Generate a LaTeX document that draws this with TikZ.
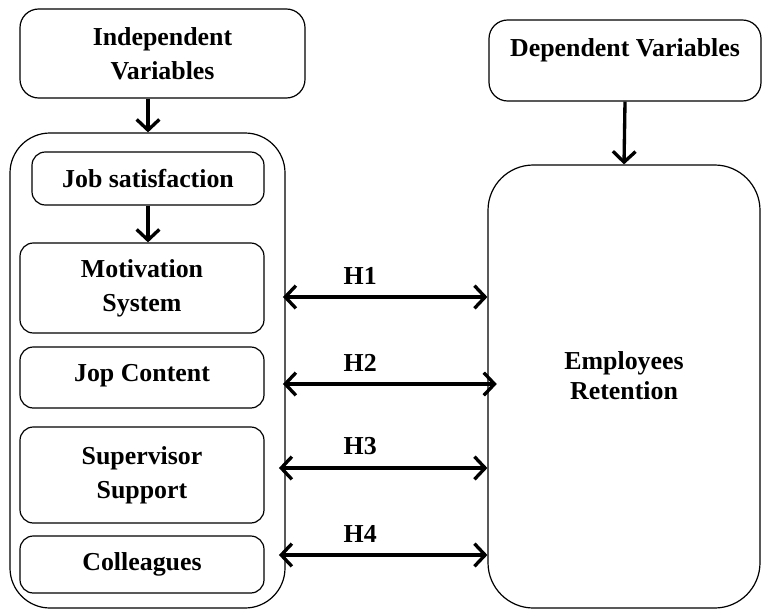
\documentclass[tikz,border=0pt]{standalone}
\usepackage{fontspec}
\setmainfont{Liberation Serif}
\usetikzlibrary{arrows.meta, positioning, calc}

\begin{document}
\begin{tikzpicture}[
    x=0.75pt, y=-0.75pt,
    varbox/.style={draw, line width=0.9pt, rounded corners=10pt, align=center, inner sep=2pt, font=\bfseries\fontsize{19.4}{25.5}\selectfont},
    group/.style={draw, line width=0.9pt, rounded corners=30pt},
    link/.style={-{Straight Barb[length=8pt, width=17pt]}, line width=2.5pt},
    biarrow/.style={{Straight Barb[length=8pt, width=17pt]}-{Straight Barb[length=8pt, width=17pt]}, line width=2.5pt},
    hlabel/.style={pos=0.37, above=5pt, font=\bfseries\fontsize{19.4}{22}\selectfont}
]
    \useasboundingbox (0,0) rectangle (762,610);

    % Headers
    \node[varbox, rounded corners=14pt, minimum width=213.75pt, minimum height=66.75pt] (indep) at (162.5, 53.5) {Independent\\Variables};
    \node[varbox, rounded corners=14pt, minimum width=204pt, minimum height=60.75pt, text depth=20pt] (dep) at (625, 60.5) {Dependent Variables};

    % Containers
    \node[group, minimum width=206.25pt, minimum height=356.25pt] (outer) at (147.5, 370.5) {};
    \node[varbox, rounded corners=34pt, minimum width=204pt, minimum height=332.25pt, text depth=17pt, font=\bfseries\fontsize{19.4}{22.5}\selectfont] (retention) at (624, 386.5) {Employees\\Retention};

    % Factors
    \node[varbox, minimum width=174pt, minimum height=39.75pt] (jobsat) at (148, 178.5) {Job satisfaction};
    \node[varbox, minimum width=183pt, minimum height=67.5pt] (motiv) at (142, 288) {Motivation\\System};
    \node[varbox, minimum width=183pt, minimum height=45.75pt, text depth=7pt] (jop) at (142, 377.5) {Jop Content};
    \node[varbox, minimum width=183pt, minimum height=72pt] (superv) at (142, 475) {Supervisor\\Support};
    \node[varbox, minimum width=183pt, minimum height=42.75pt] (colleag) at (142, 564.5) {Colleagues};

    % Hypothesis levels
    \coordinate (h1) at (0, 297);
    \coordinate (h2) at (0, 384);
    \coordinate (h3) at (0, 468);
    \coordinate (h4) at (0, 555);

    % Connections
    \draw[link] (indep.south -| jobsat.north) -- (outer.north -| jobsat.north);
    \draw[link] (jobsat) -- (jobsat |- motiv.north);
    \draw[link] (dep.south) -- (retention.north);

    \draw[biarrow, shorten <=-2pt] (outer.east |- h1) -- (retention.west |- h1) node[hlabel] {H1};
    \draw[biarrow, shorten <=-2pt, shorten >=-7pt] (outer.east |- h2) -- (retention.west |- h2) node[hlabel] {H2};
    \draw[biarrow, shorten <=-5pt] (outer.east |- h3) -- (retention.west |- h3) node[hlabel] {H3};
    \draw[biarrow, shorten <=-5pt] (outer.east |- h4) -- (retention.west |- h4) node[hlabel] {H4};

\end{tikzpicture}
\end{document}
